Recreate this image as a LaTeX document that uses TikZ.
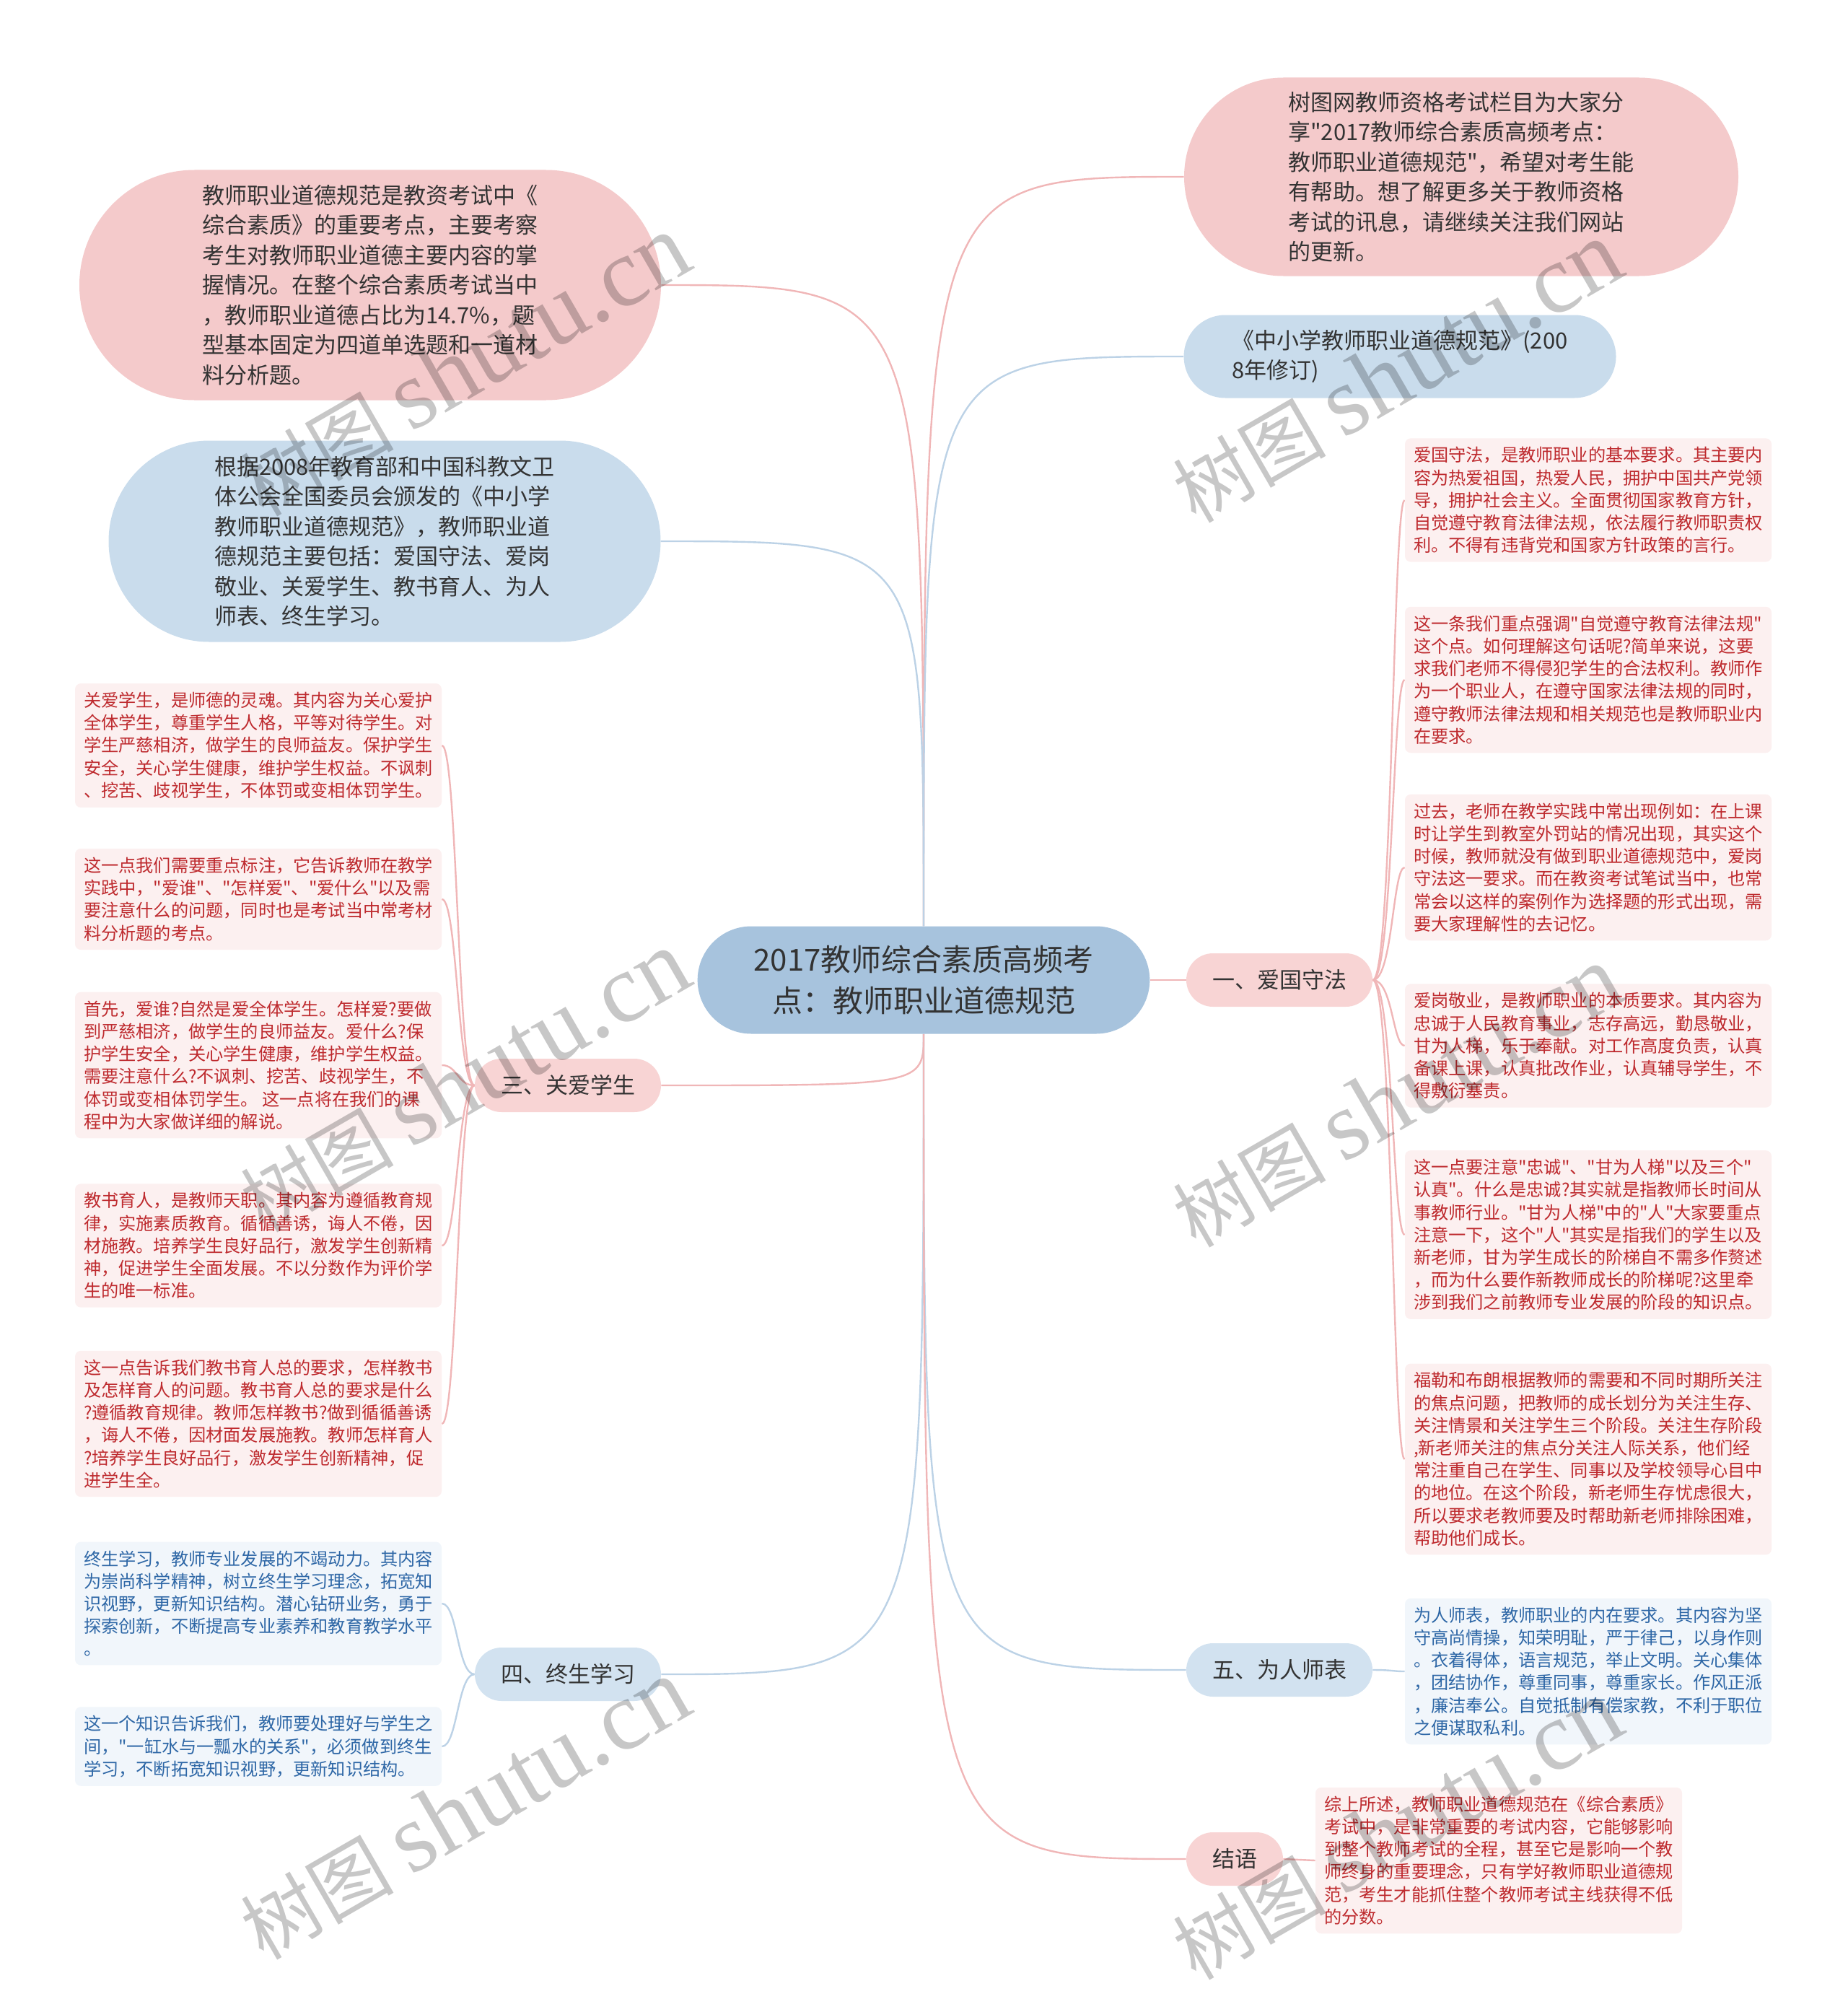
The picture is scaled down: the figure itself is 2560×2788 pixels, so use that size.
\documentclass[tikz,border=0pt]{standalone}
\usepackage{fontspec}
\setmainfont{Noto Sans CJK SC}[Ligatures=TeXOff]
\newfontfamily\wmserif{Liberation Serif}
\usetikzlibrary{shapes.misc, backgrounds}

\definecolor{pillpink}{HTML}{F4CACB}
\definecolor{pillblue}{HTML}{C9DCEC}
\definecolor{rootblue}{HTML}{A7C3DD}
\definecolor{branchpink}{HTML}{F8D4D4}
\definecolor{branchblue}{HTML}{D2E2F0}
\definecolor{leafpink}{HTML}{FCF0F0}
\definecolor{leafblue}{HTML}{F1F6FB}
\definecolor{textred}{HTML}{BE2A2E}
\definecolor{textblue}{HTML}{2E67A6}
\definecolor{textdark}{HTML}{333333}
\definecolor{linepink}{HTML}{F0B6B7}
\definecolor{lineblue}{HTML}{BCD2E6}

\begin{document}
\begin{tikzpicture}[x=0.5pt, y=-0.5pt,
    pill/.style={rounded rectangle, inner xsep=0pt, align=left, text=textdark,
        font=\fontsize{15.5pt}{20.75pt}\selectfont},
    pinkpill/.style={pill, fill=pillpink},
    bluepill/.style={pill, fill=pillblue},
    rootnode/.style={rounded rectangle, fill=rootblue, text=textdark, align=center,
        minimum width=320pt, minimum height=74.5pt,
        font=\fontsize{21pt}{28.5pt}\selectfont},
    branch/.style={rounded rectangle, inner xsep=0pt, minimum width=129pt,
        minimum height=37pt, text=textdark, font=\fontsize{15.5pt}{20pt}\selectfont},
    pinkbranch/.style={branch, fill=branchpink},
    bluebranch/.style={branch, fill=branchblue},
    leaf/.style={rounded corners=4pt, align=left, minimum width=253pt,
        inner xsep=6pt, inner ysep=6pt, font=\fontsize{12.1pt}{15.6pt}\selectfont},
    pinkleaf/.style={leaf, fill=leafpink, text=textred},
    blueleaf/.style={leaf, fill=leafblue, text=textblue},
    pinkline/.style={draw=linepink, line width=1.2pt},
    blueline/.style={draw=lineblue, line width=1.2pt},
    watermark/.style={rotate=30, text=black, opacity=0.22}
]

    % 1. Rahmen (Seitenverhaeltnis der Vorlage)
    \useasboundingbox (0,0) rectangle (2560,2788);

    % 2. Wurzelknoten
    \node[rootnode] (root) at (1280,1358) {2017教师综合素质高频考\\点：教师职业道德规范};

    % 3. Grosse Blasen oben
    \node[pinkpill, minimum width=403pt, minimum height=159.5pt] (intro) at (513,395)
        {教师职业道德规范是教资考试中《\\综合素质》的重要考点，主要考察\\考生对教师职业道德主要内容的掌\\握情况。在整个综合素质考试当中\\，教师职业道德占比为14.7\%，题\\型基本固定为四道单选题和一道材\\料分析题。};
    \node[bluepill, minimum width=382.5pt, minimum height=139.5pt] (basis) at (533,750)
        {根据2008年教育部和中国科教文卫\\体公会全国委员会颁发的《中小学\\教师职业道德规范》，教师职业道\\德规范主要包括：爱国守法、爱岗\\敬业、关爱学生、教书育人、为人\\师表、终生学习。};
    \node[pinkpill, minimum width=384pt, minimum height=137.5pt] (share) at (2025,245)
        {树图网教师资格考试栏目为大家分\\享"2017教师综合素质高频考点：\\教师职业道德规范"，希望对考生能\\有帮助。想了解更多关于教师资格\\考试的讯息，请继续关注我们网站\\的更新。};
    \node[bluepill, minimum width=299.5pt, minimum height=57.5pt] (code) at (1940,494)
        {《中小学教师职业道德规范》(200\\8年修订)};

    % 4. Zweige
    \node[pinkbranch] (b1) at (1773,1358) {一、爱国守法};
    \node[pinkbranch] (b3) at (787,1504) {三、关爱学生};
    \node[bluebranch] (b4) at (787,2320) {四、终生学习};
    \node[bluebranch] (b5) at (1773,2314) {五、为人师表};
    \node[pinkbranch, minimum width=67pt] (b6) at (1711,2576) {结语};

    % 5. Blaetter rechts
    \node[pinkleaf] (r1) at (2201,693)
        {爱国守法，是教师职业的基本要求。其主要内\\容为热爱祖国，热爱人民，拥护中国共产党领\\导，拥护社会主义。全面贯彻国家教育方针，\\自觉遵守教育法律法规，依法履行教师职责权\\利。不得有违背党和国家方针政策的言行。};
    \node[pinkleaf] (r2) at (2201,942)
        {这一条我们重点强调"自觉遵守教育法律法规"\\这个点。如何理解这句话呢?简单来说，这要\\求我们老师不得侵犯学生的合法权利。教师作\\为一个职业人，在遵守国家法律法规的同时，\\遵守教师法律法规和相关规范也是教师职业内\\在要求。};
    \node[pinkleaf] (r3) at (2201,1202)
        {过去，老师在教学实践中常出现例如：在上课\\时让学生到教室外罚站的情况出现，其实这个\\时候，教师就没有做到职业道德规范中，爱岗\\守法这一要求。而在教资考试笔试当中，也常\\常会以这样的案例作为选择题的形式出现，需\\要大家理解性的去记忆。};
    \node[pinkleaf] (r4) at (2201,1449)
        {爱岗敬业，是教师职业的本质要求。其内容为\\忠诚于人民教育事业，志存高远，勤恳敬业，\\甘为人梯，乐于奉献。对工作高度负责，认真\\备课上课，认真批改作业，认真辅导学生，不\\得敷衍塞责。};
    \node[pinkleaf] (r5) at (2201,1711)
        {这一点要注意"忠诚"、"甘为人梯"以及三个"\\认真"。什么是忠诚?其实就是指教师长时间从\\事教师行业。"甘为人梯"中的"人"大家要重点\\注意一下，这个"人"其实是指我们的学生以及\\新老师，甘为学生成长的阶梯自不需多作赘述\\，而为什么要作新教师成长的阶梯呢?这里牵\\涉到我们之前教师专业发展的阶段的知识点。};
    \node[pinkleaf] (r6) at (2201,2022)
        {福勒和布朗根据教师的需要和不同时期所关注\\的焦点问题，把教师的成长划分为关注生存、\\关注情景和关注学生三个阶段。关注生存阶段\\,新老师关注的焦点分关注人际关系，他们经\\常注重自己在学生、同事以及学校领导心目中\\的地位。在这个阶段，新老师生存忧虑很大，\\所以要求老教师要及时帮助新老师排除困难，\\帮助他们成长。};
    \node[blueleaf] (r7) at (2201,2316)
        {为人师表，教师职业的内在要求。其内容为坚\\守高尚情操，知荣明耻，严于律己，以身作则\\。衣着得体，语言规范，举止文明。关心集体\\，团结协作，尊重同事，尊重家长。作风正派\\，廉洁奉公。自觉抵制有偿家教，不利于职位\\之便谋取私利。};
    \node[pinkleaf] (concl) at (2077,2578)
        {综上所述，教师职业道德规范在《综合素质》\\考试中，是非常重要的考试内容，它能够影响\\到整个教师考试的全程，甚至它是影响一个教\\师终身的重要理念，只有学好教师职业道德规\\范，考生才能抓住整个教师考试主线获得不低\\的分数。};

    % 6. Blaetter links
    \node[pinkleaf] (l1) at (358,1033)
        {关爱学生，是师德的灵魂。其内容为关心爱护\\全体学生，尊重学生人格，平等对待学生。对\\学生严慈相济，做学生的良师益友。保护学生\\安全，关心学生健康，维护学生权益。不讽刺\\、挖苦、歧视学生，不体罚或变相体罚学生。};
    \node[pinkleaf] (l2) at (358,1246)
        {这一点我们需要重点标注，它告诉教师在教学\\实践中，"爱谁"、"怎样爱"、"爱什么"以及需\\要注意什么的问题，同时也是考试当中常考材\\料分析题的考点。};
    \node[pinkleaf] (l3) at (358,1476)
        {首先，爱谁?自然是爱全体学生。怎样爱?要做\\到严慈相济，做学生的良师益友。爱什么?保\\护学生安全，关心学生健康，维护学生权益。\\需要注意什么?不讽刺、挖苦、歧视学生，不\\体罚或变相体罚学生。 这一点将在我们的课\\程中为大家做详细的解说。};
    \node[pinkleaf] (l4) at (358,1726)
        {教书育人，是教师天职。其内容为遵循教育规\\律，实施素质教育。循循善诱，诲人不倦，因\\材施教。培养学生良好品行，激发学生创新精\\神，促进学生全面发展。不以分数作为评价学\\生的唯一标准。};
    \node[pinkleaf] (l5) at (358,1973)
        {这一点告诉我们教书育人总的要求，怎样教书\\及怎样育人的问题。教书育人总的要求是什么\\?遵循教育规律。教师怎样教书?做到循循善诱\\，诲人不倦，因材面发展施教。教师怎样育人\\?培养学生良好品行，激发学生创新精神，促\\进学生全。};
    \node[blueleaf] (l6) at (358,2222)
        {终生学习，教师专业发展的不竭动力。其内容\\为崇尚科学精神，树立终生学习理念，拓宽知\\识视野，更新知识结构。潜心钻研业务，勇于\\探索创新，不断提高专业素养和教育教学水平\\。};
    \node[blueleaf] (l7) at (358,2420)
        {这一个知识告诉我们，教师要处理好与学生之\\间，"一缸水与一瓢水的关系"，必须做到终生\\学习，不断拓宽知识视野，更新知识结构。};

    % 7. Verbindungen (hinter den Knoten)
    \coordinate (trunkR) at (1930,0);
    \coordinate (trunkL) at (634,0);
    \begin{scope}[on background layer]
        \draw[pinkline] (root.north) .. controls (root.north |- intro.east) and (root.north |- intro.east) .. (intro.east);
        \draw[blueline] (root.north) .. controls (root.north |- basis.east) and (root.north |- basis.east) .. (basis.east);
        \draw[pinkline] (root.north) .. controls (root.north |- share.west) and (root.north |- share.west) .. (share.west);
        \draw[blueline] (root.north) .. controls (root.north |- code.west) and (root.north |- code.west) .. (code.west);
        \draw[pinkline] (root.east) -- (b1.west);
        \draw[pinkline] (root.south) .. controls (root.south |- b3.east) and (root.south |- b3.east) .. (b3.east);
        \draw[blueline] (root.south) .. controls (root.south |- b4.east) and (root.south |- b4.east) .. (b4.east);
        \draw[blueline] (root.south) .. controls (root.south |- b5.west) and (root.south |- b5.west) .. (b5.west);
        \draw[pinkline] (root.south) .. controls (root.south |- b6.west) and (root.south |- b6.west) .. (b6.west);

        \foreach \n in {r1,r2,r3,r4,r5,r6}
            \draw[pinkline] (b1.east) .. controls (trunkR |- b1.east) and (trunkR |- \n.west) .. (\n.west);
        \draw[blueline] (b5.east) .. controls (trunkR |- b5.east) and (trunkR |- r7.west) .. (r7.west);
        \draw[pinkline] (b6.east) -- (concl.west);

        \foreach \n in {l1,l2,l3,l4,l5}
            \draw[pinkline] (b3.west) .. controls (trunkL |- b3.west) and (trunkL |- \n.east) .. (\n.east);
        \foreach \n in {l6,l7}
            \draw[blueline] (b4.west) .. controls (trunkL |- b4.west) and (trunkL |- \n.east) .. (\n.east);
    \end{scope}

    % 8. Wasserzeichen
    \foreach \p/\i in {{(644,507)}/1, {(1936,516)}/2, {(644,1499)}/3, {(1936,1520)}/4, {(644,2507)}/5, {(1936,2535)}/6}
        \node[watermark] (wm\i) at \p {\fontsize{53pt}{53pt}\selectfont 树图\ {\wmserif\fontsize{68pt}{68pt}\selectfont shutu.cn}};

\end{tikzpicture}
\end{document}
